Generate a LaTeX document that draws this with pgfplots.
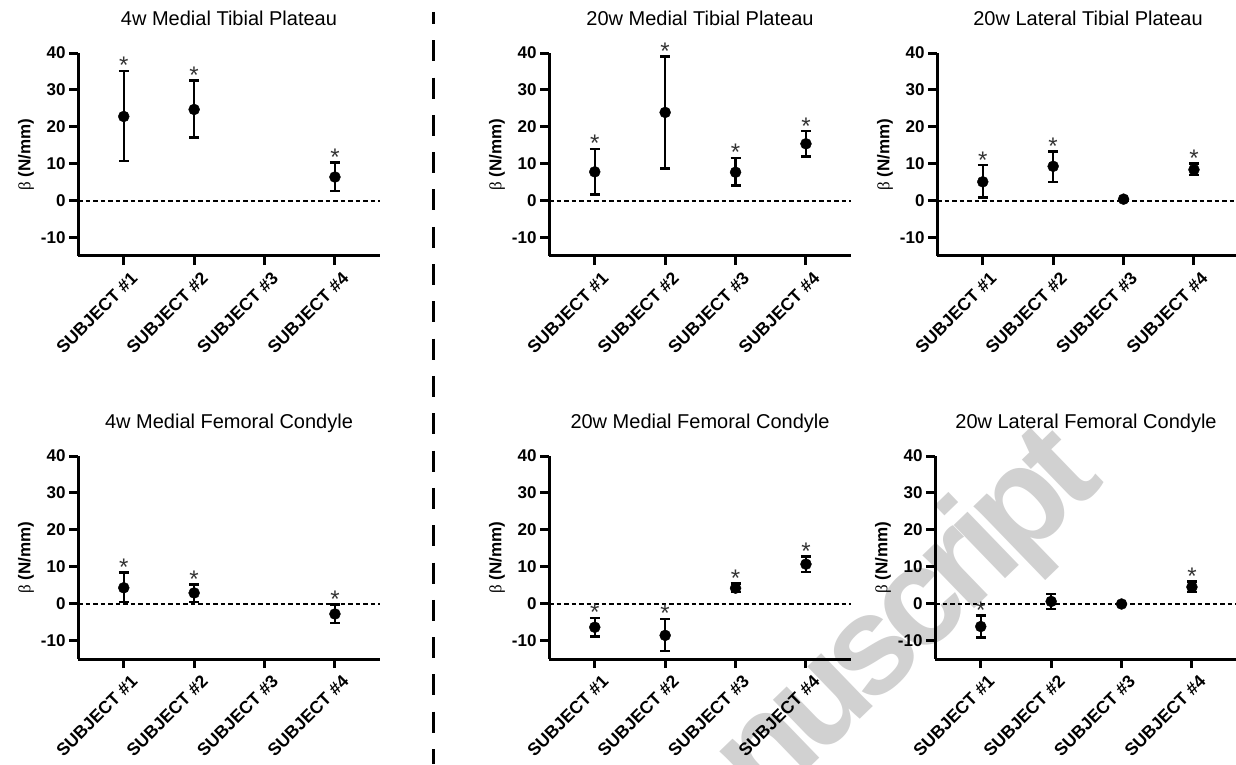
\documentclass[border=0pt]{standalone}
\usepackage{fontspec}
\setmainfont{Liberation Sans}
\newfontfamily\betafont{Liberation Serif}
\newfontfamily\wmfont[LetterSpace=-8]{Liberation Sans}
\usepackage{pgfplots}
\pgfplotsset{compat=1.18}

% one panel = one subject plot, sizes in pt = pixels of the reference
\pgfplotsset{
  panel/.style={
    scale only axis, width=302pt, height=203pt, anchor=south west,
    xmin=0.35, xmax=4.64, ymin=-15, ymax=40,
    axis x line*=bottom, axis y line*=left,
    axis line style={line width=3pt,-},
    tick align=outside, major tick length=9pt,
    major tick style={black,line width=3pt},
    xtick={1,2,3,4},
    xticklabels={SUBJECT \#1,SUBJECT \#2,SUBJECT \#3,SUBJECT \#4},
    ytick={-10,0,10,20,30,40},
    yticklabels={-10,0,10,20,30,40},
    /pgf/number format/assume math mode=true,
    yticklabel style={font=\fontsize{17}{17}\selectfont\bfseries},
    xticklabel style={font=\fontsize{17.5}{17.5}\selectfont\bfseries,xshift=13pt,yshift=-8pt,rotate=45,anchor=east},
    ylabel={\fontsize{17}{17}\selectfont{\betafont β} \textbf{(N/mm)}},
    ylabel style={at={(axis description cs:-0.172,0.5)},anchor=center},
    title style={at={(axis description cs:0.5,1)},anchor=base,yshift=22pt,font=\fontsize{20}{20}\selectfont},
    clip=false,
  },
  zero/.style={black,line width=1.8pt,dash pattern=on 4.5pt off 3pt,forget plot},
  pts/.style={black,only marks,mark=*,mark size=5.5pt,
    error bars/y dir=both,
    error bars/y explicit,
    error bars/error bar style={line width=2.5pt,solid},
    error bars/error mark options={rotate=90,line width=2.5pt,mark size=5pt}},
  star/.style={only marks,mark=none,nodes near coords={*},
    every node near coord/.style={anchor=south,inner sep=0pt,yshift=-3pt,text=black!80,font=\fontsize{24}{24}\selectfont}},
}

\begin{document}
\begin{tikzpicture}
\useasboundingbox (0,0) rectangle (1236pt,764pt);
\clip (0,0) rectangle (1236pt,764pt);

% watermark
\node[rotate=44,anchor=base east,inner sep=0pt,text=black!18,font=\fontsize{140}{140}\wmfont\bfseries]
  at (1106pt,282pt) {Accepted Manuscript};

% divider between 4w and 20w
\draw[line width=3.5pt,dash pattern=on 21pt off 16.3pt,dash phase=9pt] (433.5pt,752pt) -- (433.5pt,0pt);

% 4w Medial Tibial Plateau
\begin{axis}[panel,at={(78pt,508pt)},title={4w Medial Tibial Plateau}]
\addplot[zero] coordinates {(0.35,0) (4.64,0)};
\addplot[pts] coordinates {
  (1,22.8) += (0,12.3) -= (0,12.1)
  (2,24.7) += (0,7.8) -= (0,7.6)
  (4,6.4) += (0,4.0) -= (0,3.8)};
\addplot[star] coordinates {(1,35.1) (2,32.5) (4,10.4)};
\end{axis}

% 20w Medial Tibial Plateau
\begin{axis}[panel,at={(549pt,508pt)},title={20w Medial Tibial Plateau}]
\addplot[zero] coordinates {(0.35,0) (4.64,0)};
\addplot[pts] coordinates {
  (1,7.8) += (0,6.2) -= (0,6.2)
  (2,23.9) += (0,15.2) -= (0,15.2)
  (3,7.7) += (0,3.8) -= (0,3.6)
  (4,15.4) += (0,3.4) -= (0,3.5)};
\addplot[star] coordinates {(1,14.0) (2,39.1) (3,11.5) (4,18.8)};
\end{axis}

% 20w Lateral Tibial Plateau
\begin{axis}[panel,at={(937pt,508pt)},title={20w Lateral Tibial Plateau}]
\addplot[zero] coordinates {(0.35,0) (4.64,0)};
\addplot[pts] coordinates {
  (1,5.1) += (0,4.5) -= (0,4.3)
  (2,9.3) += (0,4.0) -= (0,4.2)
  (3,0.4) += (0,0) -= (0,0)
  (4,8.4) += (0,1.6) -= (0,1.5)};
\addplot[star] coordinates {(1,9.6) (2,13.3) (4,10.0)};
\end{axis}

% 4w Medial Femoral Condyle
\begin{axis}[panel,at={(78pt,105pt)},title={4w Medial Femoral Condyle}]
\addplot[zero] coordinates {(0.35,0) (4.64,0)};
\addplot[pts] coordinates {
  (1,4.3) += (0,4.1) -= (0,3.9)
  (2,2.9) += (0,2.3) -= (0,2.4)
  (4,-2.8) += (0,2.5) -= (0,2.5)};
\addplot[star] coordinates {(1,8.4) (2,5.2) (4,-0.3)};
\end{axis}

% 20w Medial Femoral Condyle
\begin{axis}[panel,at={(549pt,105pt)},title={20w Medial Femoral Condyle}]
\addplot[zero] coordinates {(0.35,0) (4.64,0)};
\addplot[pts] coordinates {
  (1,-6.4) += (0,2.5) -= (0,2.5)
  (2,-8.6) += (0,4.4) -= (0,4.2)
  (3,4.2) += (0,1.3) -= (0,1.1)
  (4,10.7) += (0,2.1) -= (0,2.1)};
\addplot[star] coordinates {(1,-3.9) (2,-4.2) (3,5.5) (4,12.8)};
\end{axis}

% 20w Lateral Femoral Condyle
\begin{axis}[panel,at={(935pt,105pt)},title={20w Lateral Femoral Condyle}]
\addplot[zero] coordinates {(0.35,0) (4.64,0)};
\addplot[pts] coordinates {
  (1,-6.2) += (0,3.0) -= (0,3.0)
  (2,0.6) += (0,2.0) -= (0,2.1)
  (3,-0.1) += (0,0) -= (0,0)
  (4,4.5) += (0,1.5) -= (0,1.4)};
\addplot[star] coordinates {(1,-3.2) (4,6.0)};
\end{axis}
\end{tikzpicture}
\end{document}
